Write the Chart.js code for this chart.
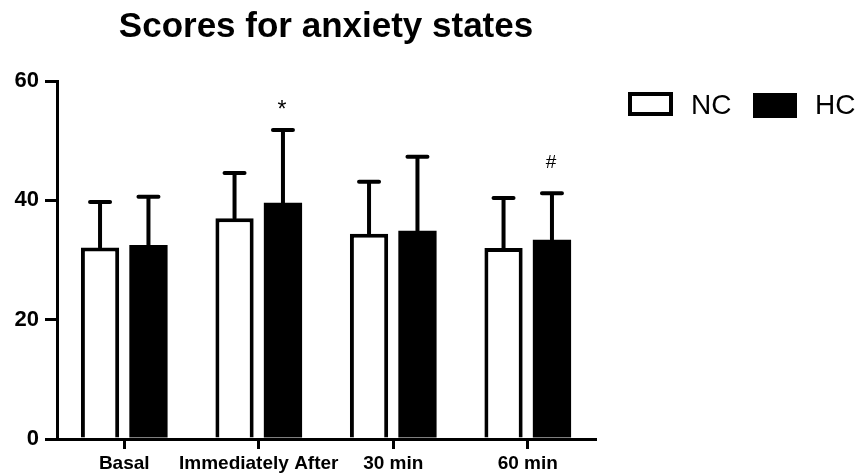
<!DOCTYPE html>
<html lang="en">
<head>
    <meta charset="UTF-8">
    <title>Scores for anxiety states</title>
    <script src="https://cdn.jsdelivr.net/npm/chart.js"></script>
    <style>
        body { margin: 0; background: #fff; }
        #wrap { width: 858px; height: 475px; position: relative; }
    </style>
</head>
<body>
    <div id="wrap"><canvas id="anxietyChart"></canvas></div>

    <script>
        // values
        const categories = ['Basal', 'Immediately After', '30 min', '60 min'];
        const ncMean = [32.1, 37.0, 34.4, 32.0];
        const ncSd = [7.6, 7.6, 8.7, 8.4];
        const hcMean = [32.5, 39.6, 34.9, 33.4];
        const hcSd = [8.1, 12.2, 12.4, 7.8];
        const hcMarks = ['', '*', '', '#'];
        const yTicks = [0, 20, 40, 60];

        const FONT = "'Liberation Sans', Arial, sans-serif";

        // error bars (upper only), significance marks, title and legend
        const extras = {
            id: 'extras',
            afterDatasetsDraw(chart) {
                const ctx = chart.ctx;
                const y = chart.scales.y;
                const sds = [ncSd, hcSd];
                ctx.save();
                ctx.strokeStyle = '#000';
                ctx.lineWidth = 4;
                ctx.lineCap = 'round';
                chart.data.datasets.forEach((ds, i) => {
                    chart.getDatasetMeta(i).data.forEach((bar, j) => {
                        const top = y.getPixelForValue(ds.data[j] + sds[i][j]);
                        ctx.beginPath();
                        ctx.moveTo(bar.x, bar.y);
                        ctx.lineTo(bar.x, top);
                        ctx.moveTo(bar.x - 10, top);
                        ctx.lineTo(bar.x + 10, top);
                        ctx.stroke();
                        if (i === 1 && hcMarks[j]) {
                            const star = hcMarks[j] === '*';
                            ctx.fillStyle = '#000';
                            ctx.font = (star ? '23px ' : '19px ') + FONT;
                            ctx.textAlign = 'center';
                            ctx.textBaseline = 'alphabetic';
                            ctx.fillText(hcMarks[j], bar.x - 1, top - (star ? 13 : 25));
                        }
                    });
                });
                ctx.restore();
            },
            afterDraw(chart) {
                const ctx = chart.ctx;
                const area = chart.chartArea;
                ctx.save();
                ctx.fillStyle = '#000';
                ctx.textBaseline = 'alphabetic';
                ctx.font = 'bold 35px ' + FONT;
                ctx.textAlign = 'center';
                ctx.fillText('Scores for anxiety states', (area.left + area.right) / 2, 37);

                // legend
                ctx.textAlign = 'left';
                ctx.font = '28px ' + FONT;
                ctx.lineWidth = 4;
                ctx.strokeStyle = '#000';
                ctx.strokeRect(630, 94, 41, 20);
                ctx.fillText('NC', 691, 114);
                ctx.fillRect(753, 93, 44, 25);
                ctx.fillText('HC', 815, 114);
                ctx.restore();
            }
        };

        const ctx = document.getElementById('anxietyChart').getContext('2d');
        new Chart(ctx, {
            type: 'bar',
            data: {
                labels: categories,
                datasets: [
                    {
                        label: 'NC',
                        data: ncMean,
                        backgroundColor: '#fff',
                        borderColor: '#000',
                        borderWidth: 4,
                    },
                    {
                        label: 'HC',
                        data: hcMean,
                        backgroundColor: '#000',
                        borderColor: '#000',
                        borderWidth: 0,
                    },
                ],
            },
            options: {
                responsive: true,
                maintainAspectRatio: false,
                devicePixelRatio: 1,
                animation: false,
                categoryPercentage: 0.72,
                barPercentage: 0.79,
                layout: {
                    padding: { top: 81, right: 263, left: 0, bottom: 0 },
                },
                scales: {
                    x: {
                        grid: { display: true, offset: false, drawOnChartArea: false, drawTicks: true, tickLength: 10, color: '#000', lineWidth: 3 },
                        border: { display: true, color: '#000', width: 3 },
                        ticks: {
                            color: '#000',
                            padding: 3,
                            maxRotation: 0,
                            autoSkip: false,
                            font: { family: FONT, size: 19, weight: 'bold' },
                        },
                        afterFit(scale) { scale.height = 36; },
                    },
                    y: {
                        min: 0,
                        max: 60,
                        afterBuildTicks(scale) { scale.ticks = yTicks.map(v => ({ value: v })); },
                        grid: { display: true, drawOnChartArea: false, drawTicks: true, tickLength: 12, color: '#000', lineWidth: 3 },
                        border: { display: true, color: '#000', width: 3 },
                        ticks: {
                            color: '#000',
                            padding: 6,
                            font: { family: FONT, size: 22, weight: 'bold' },
                        },
                        afterFit(scale) { scale.width = 57; },
                    },
                },
                plugins: {
                    legend: { display: false },
                    title: { display: false },
                    tooltip: { enabled: false },
                },
            },
            plugins: [extras],
        });
    </script>
</body>
</html>
